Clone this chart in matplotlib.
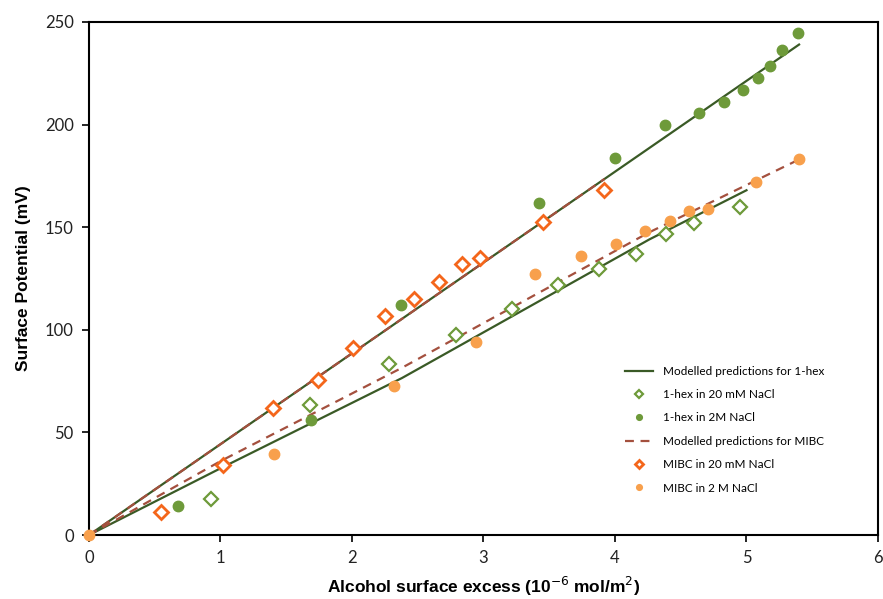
import numpy as np
import matplotlib
matplotlib.use("Agg")
import matplotlib.pyplot as plt

# 1-hex in 20 mM NaCl (open diamonds)
hex20_x = [0.93, 1.68, 2.28, 2.79, 3.22, 3.57, 3.88, 4.16, 4.39, 4.60, 4.95]
hex20_y = [17.5, 63.5, 83.5, 97.5, 110, 122, 129.5, 137, 146.5, 152, 160]

# 1-hex in 2M NaCl (filled circles)
hex2m_x = [0.68, 1.69, 2.37, 3.42, 4.00, 4.38, 4.64, 4.83, 4.97, 5.09, 5.18, 5.27, 5.39]
hex2m_y = [14, 56, 112, 162, 183.5, 200, 205.5, 211, 217, 222.5, 228.5, 236.5, 244.5]

# MIBC in 20 mM NaCl (open diamonds)
mibc20_x = [0.55, 1.02, 1.40, 1.74, 2.01, 2.25, 2.47, 2.66, 2.84, 2.97, 3.45, 3.92]
mibc20_y = [11, 34, 62, 75.5, 91, 106.5, 115, 123.5, 132, 135, 152.5, 168]

# MIBC in 2 M NaCl (filled circles)
mibc2m_x = [0, 1.41, 2.32, 2.94, 3.39, 3.74, 4.01, 4.23, 4.42, 4.56, 4.71, 5.07, 5.40]
mibc2m_y = [0, 39.5, 72.5, 94, 127, 136, 142, 148, 153, 158, 159, 172, 183]

# model predictions
hex_model_hi_x = [0, 5.40]
hex_model_hi_y = [0, 239]
hex_model_lo_x = [0, 1.0, 2.38, 4.26, 5.00]
hex_model_lo_y = [0, 32.5, 76.5, 144, 168]
mibc_model_hi_x = [0, 3.92]
mibc_model_hi_y = [0, 173.5]
mibc_model_lo_x = [0, 1.0, 2.38, 4.26, 5.40]
mibc_model_lo_y = [0, 36, 81.5, 147.5, 183]

green_line = "#3a5a26"
green_pt = "#6e9a3a"
orange_open = "#f4661b"
orange_fill = "#f8a04c"
brown_dash = "#a4503e"

fig = plt.figure(figsize=(8.83, 5.99), dpi=100)
ax = fig.add_axes([0.1008, 0.1068, 0.8935, 0.8565])

l1, = ax.plot(hex_model_hi_x, hex_model_hi_y, color=green_line, lw=1.6, zorder=2)
ax.plot(hex_model_lo_x, hex_model_lo_y, color=green_line, lw=1.6, zorder=2)
l4, = ax.plot(mibc_model_hi_x, mibc_model_hi_y, color=brown_dash, lw=1.6, ls=(0, (4, 3)), zorder=3)
ax.plot(mibc_model_lo_x, mibc_model_lo_y, color=brown_dash, lw=1.6, ls=(0, (4, 3)), zorder=3)

l2, = ax.plot(hex20_x, hex20_y, ls="none", marker="D", ms=7.5, mfc="white", mec=green_pt, mew=1.6, zorder=4)
l3, = ax.plot(hex2m_x, hex2m_y, ls="none", marker="o", ms=7.5, color=green_pt, zorder=4)
l5, = ax.plot(mibc20_x, mibc20_y, ls="none", marker="D", ms=7.5, mfc="white", mec=orange_open, mew=2, zorder=5)
l6, = ax.plot(mibc2m_x, mibc2m_y, ls="none", marker="o", ms=7.5, color=orange_fill, zorder=6,
              clip_on=False)

ax.set_xlim(0, 6)
ax.set_ylim(0, 250)
ax.set_xticks(range(0, 7))
ax.set_yticks(range(0, 251, 50))
for s in ax.spines.values():
    s.set_linewidth(1.5)
    s.set_color("black")
ax.tick_params(direction="out", length=5, width=1.2, labelsize=12, pad=6)
for lab in ax.get_xticklabels() + ax.get_yticklabels():
    lab.set_fontfamily("Lato")
    lab.set_color("#222222")

ax.set_xlabel("Alcohol surface excess (10$^{-6}$ mol/m$^{2}$)", fontsize=12.5,
              fontweight="bold", family="Liberation Sans", labelpad=6)
ax.set_ylabel("Surface Potential (mV)", fontsize=12.5, fontweight="bold",
              family="Liberation Sans", labelpad=10)

leg = ax.legend([l1, l2, l3, l4, l5, l6],
                ["Modelled predictions for 1-hex", "1-hex in 20 mM NaCl", "1-hex in 2M NaCl",
                 "Modelled predictions for MIBC", "MIBC in 20 mM NaCl", "MIBC in 2 M NaCl"],
                loc="lower right", bbox_to_anchor=(0.945, 0.06), frameon=False,
                prop={"family": "Lato", "size": 8.5}, labelspacing=1.05,
                handlelength=2.4, markerscale=0.55)

fig.savefig("out.png", dpi=100)
